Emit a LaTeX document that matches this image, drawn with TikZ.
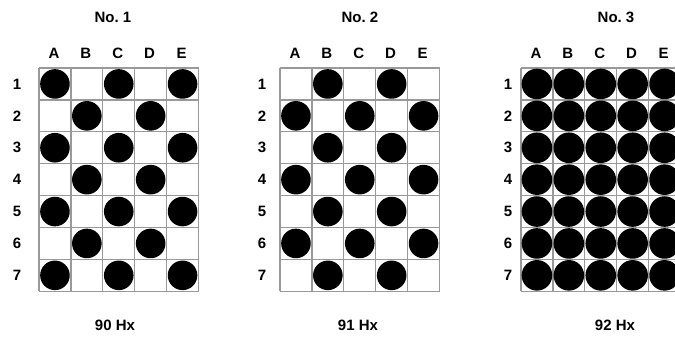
\documentclass[tikz,border=0pt]{standalone}
\usepackage{fontspec}
\setmainfont{Liberation Sans}
\begin{document}
\begin{tikzpicture}[x=1pt,y=-1pt,
    lbl/.style={font=\bfseries\fontsize{15}{17}\selectfont, inner sep=0pt},
    gridline/.style={draw=black!40, line width=1.3pt},
    dot/.style={fill=black}]
  \useasboundingbox (0,0) rectangle (675,344);

  % Panels: left edge / row-number x / title x / caption x / number / Hx / pattern / radius
  \foreach \gx/\rx/\tx/\cx/\n/\hz/\mode/\rad in
      {39/17/113/115/1/90/0/14.8, 280/262/360/358/2/91/1/14.8, 521/508/616/615/3/92/2/15.3} {

      % Title and caption
      \node[lbl] (title\n) at (\tx,17) {No.\ \n};
      \node[lbl] (freq\n) at (\cx,325) {\hz\ Hx};

      % Grid lines
      \foreach \i in {0,...,5}
          \draw[gridline] (\gx+\i*31.9,68) -- (\gx+\i*31.9,291.3);
      \foreach \j in {0,...,7}
          \draw[gridline] (\gx,68+\j*31.9) -- (\gx+159.5,68+\j*31.9);

      % Column letters
      \foreach \l [count=\c] in {A,B,C,D,E}
          \node[lbl] (col\n\l) at (\gx+\c*31.9-16.95,53) {\l};

      % Row numbers
      \foreach \r in {1,...,7}
          \node[lbl] (row\n\r) at (\rx,68+\r*31.9-15.95) {\r};

      % Dots
      \foreach \c in {1,...,5} {
          \foreach \r in {1,...,7} {
              \pgfmathtruncatemacro\filled{(\mode==2) || (mod(\r+\c+\mode,2)==0)}
              \ifnum\filled=1
                  \fill[dot] (\gx+\c*31.9-15.95,68+\r*31.9-15.95) circle[radius=\rad];
              \fi
          }
      }
  }
\end{tikzpicture}
\end{document}
